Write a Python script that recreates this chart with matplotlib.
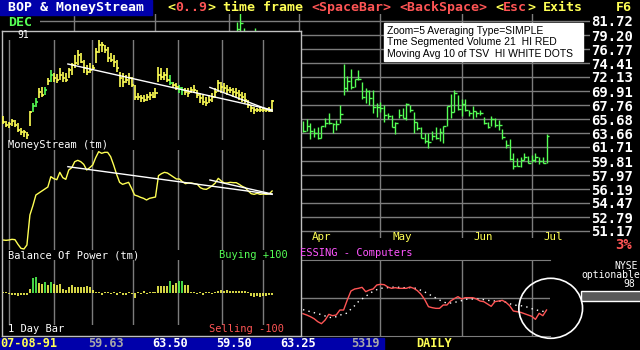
import matplotlib
matplotlib.use("Agg")
import matplotlib.pyplot as plt
from matplotlib.patches import Rectangle, Ellipse
from matplotlib.ticker import NullLocator, NullFormatter
from matplotlib.transforms import blended_transform_factory
import numpy as np

W, H = 640, 350

# DOS palette
BLUE = '#0000aa'
YEL = '#ffff55'
GRN = '#55ff55'
RED = '#ff5555'
MAG = '#ff55ff'
WHITE = '#ffffff'
LGRAY = '#a8a8a8'
GRID = '#7c7c7c'

# ---- main daily chart (Apr..Jul 91), HLC bars
price_ticks = [81.72, 79.20, 76.77, 74.41, 72.13, 69.91, 67.76, 65.68,
               63.66, 61.71, 59.81, 57.97, 56.19, 54.47, 52.79, 51.17]
main_high = [65.39, 65.68, 65.10, 64.38, 64.52, 64.67, 65.83, 66.57, 65.10, 65.54,
             67.76, 74.25, 72.29, 73.43, 71.81, 73.27, 71.34, 70.40, 70.07, 70.07,
             68.07, 68.22, 67.76, 66.57, 66.27, 65.25, 67.17, 67.31, 68.07, 67.76,
             66.72, 65.25, 64.52, 63.66, 63.66, 63.95, 64.52, 64.38, 64.67, 67.61,
             69.45, 70.07, 69.30, 68.68, 68.68, 67.02, 67.61, 66.87, 67.02, 65.98,
             65.25, 66.12, 65.83, 65.54, 64.23, 62.68, 62.82, 60.90, 60.22, 60.35,
             60.90, 60.49, 60.62, 60.90, 60.35, 60.35, 63.50]
main_low = [63.80, 63.95, 62.82, 63.10, 62.82, 62.96, 64.52, 64.96, 63.66, 64.09,
            65.10, 69.30, 69.91, 70.24, 70.55, 71.66, 68.68, 68.07, 67.76, 66.57,
            65.98, 66.72, 65.25, 65.68, 64.52, 63.52, 65.83, 65.83, 65.54, 66.72,
            63.66, 64.09, 62.96, 62.27, 61.57, 62.68, 62.82, 62.55, 62.27, 64.67,
            65.83, 66.72, 67.02, 66.12, 66.87, 66.12, 65.68, 65.98, 66.27, 64.96,
            64.38, 64.67, 64.52, 64.09, 62.82, 61.57, 59.95, 58.76, 59.15, 59.02,
            59.95, 59.55, 59.68, 59.68, 59.42, 59.55, 59.50]
main_close = [63.95, 64.67, 63.95, 63.66, 62.96, 64.67, 65.10, 65.10, 64.96, 64.96,
              66.42, 70.40, 71.50, 70.55, 71.81, 71.81, 68.99, 69.91, 68.84, 67.46,
              67.46, 67.31, 66.27, 66.12, 64.52, 65.10, 66.27, 65.83, 67.91, 67.02,
              65.25, 64.38, 62.96, 62.55, 62.41, 63.24, 62.96, 63.80, 64.67, 67.61,
              66.72, 69.60, 67.17, 67.91, 67.02, 66.57, 66.87, 66.57, 66.57, 65.10,
              64.52, 65.68, 64.81, 64.81, 63.10, 61.99, 60.08, 59.15, 59.15, 59.95,
              60.35, 59.55, 59.95, 60.35, 59.81, 59.55, 63.25]
# a few earlier bars that poke out above the overlay window
early_days = [-18, -17, -16, -13]
early_high = [81.5, 83.1, 80.4, 80.4]
early_low = [79.2, 79.0, 78.7, 78.4]
early_close = [80.3, 81.3, 79.7, 79.2]

month_starts = [-62, -40, -20, -1, 21, 43, 62]
month_names = ['Apr', 'May', 'Jun', 'Jul']

# time segmented volume + its 10 day average
tsv = [34, 30, 25, 19, 10, 4, 15, 32, 28, 30, 45, 45, 75, 102, 108, 110, 113, 100, 105, 108,
       120, 122, 121, 114, 110, 112, 110, 110, 110, 114, 110, 103, 92, 76, 55, 52, 50, 50, 60, 60,
       72, 79, 85, 78, 82, 82, 82, 78, 72, 70, 63, 56, 70, 72, 74, 68, 58, 42, 40, 38,
       34, 30, 26, 17, 35, 28, 45]
tsv_avg = [46, 43, 40, 37, 34, 31, 27, 23, 22, 25, 30, 32, 36, 48, 58, 70, 78, 86, 94, 101,
           106, 110, 111, 112, 113, 114, 113, 112, 112, 112, 112, 108, 104, 99, 93, 87, 81, 75, 70, 65,
           66, 68, 70, 73, 77, 78, 78, 78, 78, 76, 74, 73, 72, 72, 71, 68, 64, 60, 59, 58,
           56, 53, 49, 46, 43, 41, 40]

# ---- BOP & MoneyStream window (compressed, Dec 90 .. Jul 91)
ov_high = [58.2, 56.5, 56.1, 57.2, 56.9, 55.8, 54.1, 53.5, 53.0, 59.9,
           62.4, 64.1, 67.4, 68.0, 68.0, 70.8, 73.5, 72.4, 72.1, 74.1,
           73.0, 72.4, 74.1, 75.8, 78.5, 80.2, 79.1, 76.9, 75.2, 75.8,
           75.2, 80.8, 83.5, 83.0, 81.9, 81.3, 79.1, 78.5, 76.9, 73.0,
           72.4, 71.9, 72.4, 71.3, 68.5, 65.8, 65.2, 65.2, 65.4, 66.3,
           66.3, 67.4, 74.6, 74.1, 73.0, 74.1, 71.9, 69.6, 69.1, 68.5,
           68.0, 67.4, 67.4, 68.0, 68.5, 66.9, 65.8, 65.2, 64.6, 65.2,
           65.8, 67.4, 70.2, 69.6, 69.1, 68.5, 68.0, 67.4, 67.4, 66.9,
           66.3, 65.8, 63.5, 61.9, 61.3, 61.0, 61.3, 61.3, 61.0, 61.3, 63.5]
ov_low = [55.4, 54.6, 54.1, 55.0, 54.6, 53.0, 51.9, 51.3, 50.5, 55.0,
          59.4, 61.3, 64.1, 64.6, 65.2, 68.5, 69.6, 69.6, 69.1, 70.2,
          69.6, 69.6, 70.8, 71.9, 74.1, 75.2, 75.8, 72.4, 71.9, 72.4,
          73.5, 75.8, 79.1, 79.6, 79.1, 76.3, 76.3, 74.6, 73.0, 68.0,
          68.0, 69.1, 68.5, 68.0, 63.5, 63.5, 63.0, 63.0, 63.2, 63.5,
          64.1, 64.1, 69.6, 70.2, 70.2, 69.6, 68.5, 68.0, 66.9, 65.8,
          65.2, 65.2, 64.6, 65.8, 65.8, 64.1, 62.4, 61.9, 61.6, 62.4,
          63.0, 64.1, 66.3, 65.8, 66.3, 65.2, 65.8, 64.6, 64.6, 63.5,
          63.0, 62.4, 60.8, 59.6, 58.8, 59.4, 59.6, 59.4, 59.6, 59.4, 59.5]
ov_close = [56.1, 55.2, 55.4, 56.5, 55.2, 53.5, 52.8, 53.0, 51.9, 59.6,
            61.6, 63.0, 66.3, 65.2, 66.9, 69.9, 71.9, 70.8, 70.2, 71.9,
            70.8, 70.2, 73.5, 75.2, 75.8, 78.5, 76.3, 74.1, 73.0, 73.5,
            74.1, 79.6, 81.9, 81.9, 80.2, 77.4, 76.9, 76.3, 74.1, 70.8,
            69.6, 70.2, 70.8, 68.5, 64.6, 64.6, 64.1, 63.5, 64.6, 65.2,
            64.6, 65.8, 71.9, 71.3, 71.9, 70.2, 69.1, 68.5, 68.0, 67.4,
            66.9, 66.3, 65.8, 66.9, 66.9, 65.2, 64.1, 63.0, 62.4, 63.5,
            64.6, 66.3, 69.1, 68.0, 67.4, 66.9, 66.9, 66.3, 65.8, 65.2,
            64.6, 63.5, 61.9, 60.8, 60.2, 60.2, 60.2, 60.2, 60.2, 59.9, 63.25]
money_stream = [35, 34, 35, 37, 36, 22, 10, 8, 20, 110,
                138, 170, 176, 182, 188, 194, 225, 219, 216, 238,
                222, 217, 245, 252, 270, 274, 270, 262, 245, 252,
                260, 282, 300, 295, 298, 298, 285, 260, 232, 208,
                202, 205, 208, 190, 170, 167, 163, 160, 155, 160,
                162, 164, 228, 234, 238, 236, 230, 224, 218, 218,
                210, 204, 206, 206, 204, 202, 192, 188, 187, 192,
                198, 206, 220, 212, 206, 206, 208, 207, 207, 202,
                196, 192, 182, 174, 172, 175, 172, 173, 172, 173, 182]
bop = [3, 3, -3, -4, -5, -7, -6, -5, -4, 12,
       45, 48, 30, 28, 33, 25, 35, 28, 26, 28,
       12, 10, 20, 25, 20, 18, 18, 20, 22, 18,
       10, 5, 4, -4, 3, 3, -3, 3, -4, 3,
       -5, -4, 3, -3, -14, 4, -3, 6, -3, 3,
       4, 3, 22, 22, 22, 22, 36, 25, 30, 37,
       36, 25, 25, 4, 3, -3, 3, -4, 3, 4,
       -3, 4, 8, 9, 8, 10, 8, 8, 7, 8,
       8, 7, 3, -8, -12, -8, -10, -7, -9, -6, -5]
ov_month_lines = [2.1, 17.2, 29.9, 43.6, 58.6, 73.4, 87.1]
# trend lines drawn by the user: (start idx, start value, end idx, end value)
price_trends = [(21.7, 75.5, 90, 60.2), (69.2, 67.7, 90, 59.8)]
ms_trends = [(21.7, 255, 90, 172), (69.2, 215, 90, 173)]

bar_date = '07-08-91'
bar_open, bar_hi, bar_lo, bar_cl, bar_vol = '59.63', '63.50', '59.50', '63.25', '5319'

plt.rcParams['font.family'] = 'DejaVu Sans Mono'

fig = plt.figure(figsize=(6.4, 3.5), dpi=100, facecolor='black')


def rect(x0, y0, x1, y1):
    return [x0 / W, 1 - y1 / H, (x1 - x0) / W, (y1 - y0) / H]


def put(x, y, s, color, size=7.5, ha='left', weight='normal', family='DejaVu Sans Mono'):
    fig.text(x / W, 1 - y / H, s, color=color, fontsize=size, ha=ha, va='center',
             fontweight=weight, family=family)


def box(x0, y0, x1, y1, **kw):
    fig.add_artist(Rectangle((x0 / W, 1 - y1 / H), (x1 - x0) / W, (y1 - y0) / H,
                             transform=fig.transFigure, **kw))


# ---------------- main chart
MX0, MDX = 303, 3.69


def mlim(a, b):
    return ((a - MX0) / MDX, (b - MX0) / MDX)


ax = fig.add_axes(rect(40, 14, 590, 238), facecolor='black')
ax.set_yscale('log')
step = (price_ticks[0] / price_ticks[-1]) ** (1 / (len(price_ticks) - 1))
ax.set_ylim(price_ticks[-1] / step ** 0.5, price_ticks[0] * step ** 0.5)
ax.set_xlim(*mlim(40, 590))
ax.set_yticks(price_ticks)
ax.set_yticklabels([f'{v:.2f}' for v in price_ticks])
ax.yaxis.set_minor_locator(NullLocator())
ax.yaxis.set_minor_formatter(NullFormatter())
ax.yaxis.tick_right()
ax.tick_params(axis='y', length=0, pad=1, labelcolor='white', labelsize=10)
for lab in ax.get_yticklabels():
    lab.set_fontweight('bold')
ax.set_xticks([])
for sp in ax.spines.values():
    sp.set_visible(False)
ax.grid(axis='y', color=GRID, lw=1)
for m in month_starts:
    ax.axvline(m, color=GRID, lw=1)

days = np.arange(len(main_close))
ax.vlines(days, main_low, main_high, color=GRN, lw=1)
ax.hlines(main_close, days, days + 0.8, color=GRN, lw=1)
ed = np.array(early_days)
ax.vlines(ed, early_low, early_high, color=GRN, lw=1)
ax.hlines(early_close, ed, ed + 0.8, color=GRN, lw=1)

tr = blended_transform_factory(ax.transData, fig.transFigure)
for m, name in zip(month_starts[3:], month_names):
    ax.text(m + 12 / MDX, 1 - 237 / H, name, color=YEL, fontsize=7.8,
            va='center', transform=tr, clip_on=False)

# ---------------- TSV panel
lo = fig.add_axes(rect(40, 260, 550, 336), facecolor='black')
lo.set_xlim(*mlim(40, 550))
lo.set_ylim(-33, 195)
lo.set_xticks([])
lo.set_yticks([])
for k, sp in lo.spines.items():
    sp.set_visible(k in ('top', 'bottom'))
    sp.set_color(GRID)
lo.axhline(80, color=GRID, lw=1)
for m in month_starts:
    lo.axvline(m, color=GRID, lw=1)
lo.plot(days, tsv_avg, color=WHITE, lw=1, linestyle=(0, (1, 3)))
lo.plot(days, tsv, color=RED, lw=1)

# ---------------- overlay window
OX0, ODX = 3, 2.99


def olim(a, b):
    return ((a - OX0) / ODX, (b - OX0) / ODX)


frame = fig.add_axes(rect(1.5, 30.5, 301, 336), facecolor='black')
frame.set_xticks([])
frame.set_yticks([])
for sp in frame.spines.values():
    sp.set_color('#c0c0c0')
    sp.set_linewidth(1)


def panel(y0, y1, lim):
    p = fig.add_axes(rect(3, y0, 300, y1))
    p.set_xlim(*olim(3, 300))
    p.set_ylim(*lim)
    p.axis('off')
    for m in ov_month_lines:
        p.axvline(m, color=GRID, lw=1)
    return p


od = np.arange(len(ov_close))
cols = [GRN if b >= 32 else YEL for b in bop]

pp = panel(40, 140, (50.17, 83.5))
pp.vlines(od, ov_low, ov_high, colors=cols, lw=1.2, clip_on=False)
pp.hlines(ov_close, od, od + 0.7, colors=cols, lw=1.2, clip_on=False)
for x0, y0, x1, y1 in price_trends:
    pp.plot([x0, x1], [y0, y1], color=WHITE, lw=1)

ms = panel(150, 250, (5, 305))
ms.plot(od, money_stream, color=YEL, lw=1)
for x0, y0, x1, y1 in ms_trends:
    ms.plot([x0, x1], [y0, y1], color=WHITE, lw=1)

bp = panel(260, 325, (-95, 100))
bp.vlines(od, 0, bop, colors=cols, lw=1.2)

put(17, 35, '91', WHITE, size=7)
put(8, 145, 'MoneyStream (tm)', WHITE)
put(8, 255, 'Balance Of Power (tm)', WHITE)
put(288, 255, 'Buying +100', GRN, ha='right')
put(8, 329, '1 Day Bar', WHITE)
put(284, 329, 'Selling -100', RED, ha='right')

# ---------------- header line
HF, CW = 9.57, 8.0
box(0, 0, 152, 15, color=BLUE)
put(8, 7.5, 'BOP & MoneyStream', WHITE, size=HF, weight='bold')
header_parts = [('<', YEL), ('0..9', RED), ('>', YEL), (' time frame ', YEL),
                ('<SpaceBar>', RED), (' ', YEL), ('<BackSpace>', RED), (' ', YEL),
                ('<', YEL), ('Esc', RED), ('>', YEL), (' Exits', YEL)]
x = 167
for s, c in header_parts:
    if s.strip():
        lead = len(s) - len(s.lstrip())
        put(x + lead * CW, 7.5, s.strip(), c, size=HF, weight='bold')
    x += len(s) * CW
put(632, 7.5, 'F6', YEL, size=HF, ha='right', weight='bold')
put(8, 22, 'DEC', GRN, size=HF, weight='bold')

# info box
box(384, 23, 583, 61, color=WHITE)
for yy, s in zip([30.7, 42.3, 53.7], ['Zoom=5 Averaging Type=SIMPLE',
                                      'Tme Segmented Volume 21  HI RED',
                                      'Moving Avg 10 of TSV  HI WHITE DOTS']):
    put(387, yy, s, 'black', size=7.5, family='Liberation Sans')

put(632, 245, '3%', RED, size=10, ha='right', weight='bold')
put(300.5, 252.7, 'ESSING - Computers', MAG)

put(638, 265.7, 'NYSE', WHITE, size=7, ha='right')
put(640, 275, 'optionable', WHITE, size=7, ha='right')
put(635, 284.3, '98', WHITE, size=7, ha='right')
box(581, 291, 642, 301, facecolor='#5a5a5a', edgecolor=WHITE, lw=1)

fig.add_artist(Ellipse((550.7 / W, 1 - 308.3 / H), 63.7 / W, 60 / H,
                       transform=fig.transFigure, fill=False, edgecolor=WHITE, lw=1.2))

# ---------------- bottom status line
box(0, 338, 384, 352, color=BLUE)
BF = 8.6
for xx, s, c in [(0, bar_date, YEL), (88, bar_open, LGRAY), (152, bar_hi, WHITE),
                 (216, bar_lo, WHITE), (280, bar_cl, WHITE), (351, bar_vol, LGRAY),
                 (416, 'DAILY', YEL)]:
    put(xx, 343.5, s, c, size=BF, weight='bold')

fig.savefig('out.png', dpi=100, facecolor='black')
